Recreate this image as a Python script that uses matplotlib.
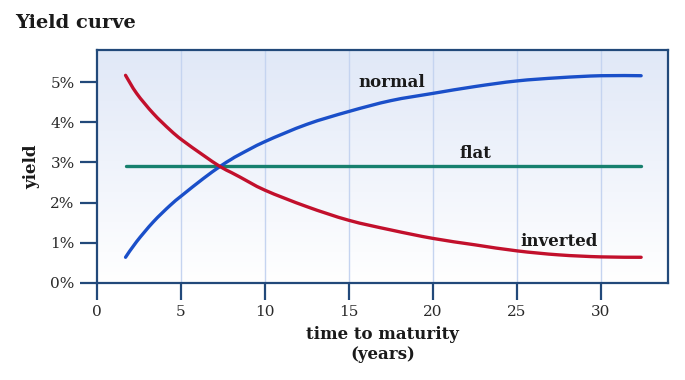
import numpy as np
import matplotlib
matplotlib.use('Agg')
import matplotlib.pyplot as plt
from matplotlib.path import Path
from matplotlib.patches import PathPatch

# maturities (years) and yields (%)
maturity = [1.7, 2.36, 3.35, 4.35, 5.06, 6.33, 7.32, 8.0, 8.5, 10, 12.5, 15, 17.5, 20, 22.5, 25, 27.5, 30, 32.4]
normal = [0.64, 1.03, 1.52, 1.93, 2.18, 2.60, 2.90, 3.08, 3.20, 3.52, 3.95, 4.27, 4.54, 4.72, 4.89, 5.03, 5.11, 5.16, 5.16]
inverted = [5.17, 4.72, 4.22, 3.81, 3.56, 3.18, 2.90, 2.75, 2.64, 2.31, 1.90, 1.56, 1.32, 1.11, 0.95, 0.80, 0.70, 0.65, 0.64]
flat = [2.9] * len(maturity)

xticks = [0, 5, 10, 15, 20, 25, 30]
yticks = [0, 1, 2, 3, 4, 5]

navy = '#22497a'
serif = 'DejaVu Serif'


def smooth_line(ax, xs, ys, **kw):
    # bezier path through the points (catmull-rom control points)
    x = np.asarray(xs, float)
    y = np.asarray(ys, float)
    verts = [(x[0], y[0])]
    codes = [Path.MOVETO]
    n = len(x)
    for i in range(n - 1):
        i0, i3 = max(i - 1, 0), min(i + 2, n - 1)
        c1 = (x[i] + (x[i + 1] - x[i0]) / 6, y[i] + (y[i + 1] - y[i0]) / 6)
        c2 = (x[i + 1] - (x[i3] - x[i]) / 6, y[i + 1] - (y[i3] - y[i]) / 6)
        verts += [c1, c2, (x[i + 1], y[i + 1])]
        codes += [Path.CURVE4] * 3
    ax.add_patch(PathPatch(Path(verts, codes), fill=False, capstyle='round', **kw))


fig = plt.figure(figsize=(6.85, 3.8), dpi=100)
ax = fig.add_axes([0.1416, 0.2553, 0.8336, 0.6131])

# light blue to white gradient background
grad = np.linspace(1, 0, 256).reshape(-1, 1)
top = np.array([0.88, 0.91, 0.97])
bot = np.array([1.0, 1.0, 1.0])
img = bot + (top - bot) * grad[:, :, None]
ax.imshow(img, extent=[0, 1, 0, 1], transform=ax.transAxes, aspect='auto', zorder=0)

for x in xticks[1:]:
    ax.axvline(x, color='#c5d4f0', lw=1, zorder=1)

smooth_line(ax, maturity, normal, edgecolor='#1a4fc9', lw=2.4, zorder=3)
smooth_line(ax, maturity, inverted, edgecolor='#c2102c', lw=2.4, zorder=3)
ax.plot(maturity, flat, color='#17806e', lw=2.4, solid_capstyle='round', zorder=2)

lab = dict(fontfamily=serif, fontweight='bold', fontsize=12, color='#1a1a1a', ha='center', va='center')
ax.text(17.56, 4.98, 'normal', **lab)
ax.text(22.56, 3.23, 'flat', **lab)
ax.text(27.5, 1.04, 'inverted', **lab)

ax.set_xlim(0, 34)
ax.set_ylim(0, 5.8)
ax.set_xticks(xticks)
ax.set_yticks(yticks)
ax.set_xticklabels([str(t) for t in xticks], fontfamily=serif, fontsize=11, color='#2a2a2a')
ax.set_yticklabels([f'{t}%' for t in yticks], fontfamily=serif, fontsize=11, color='#2a2a2a')
ax.tick_params(direction='out', length=12, width=1.6, color=navy, pad=4)

for s in ax.spines.values():
    s.set_color(navy)
    s.set_linewidth(1.6)

ax.set_xlabel('time to maturity\n(years)', fontfamily=serif, fontweight='bold', fontsize=12,
              color='#1a1a1a', labelpad=5, linespacing=1.2)
ax.set_ylabel('yield', fontfamily=serif, fontweight='bold', fontsize=12, color='#1a1a1a', labelpad=7)

fig.text(0.022, 0.94, 'Yield curve', fontfamily=serif, fontweight='bold', fontsize=14,
         color='#1a1a1a', va='center', ha='left')

fig.savefig('out.png', dpi=100)
